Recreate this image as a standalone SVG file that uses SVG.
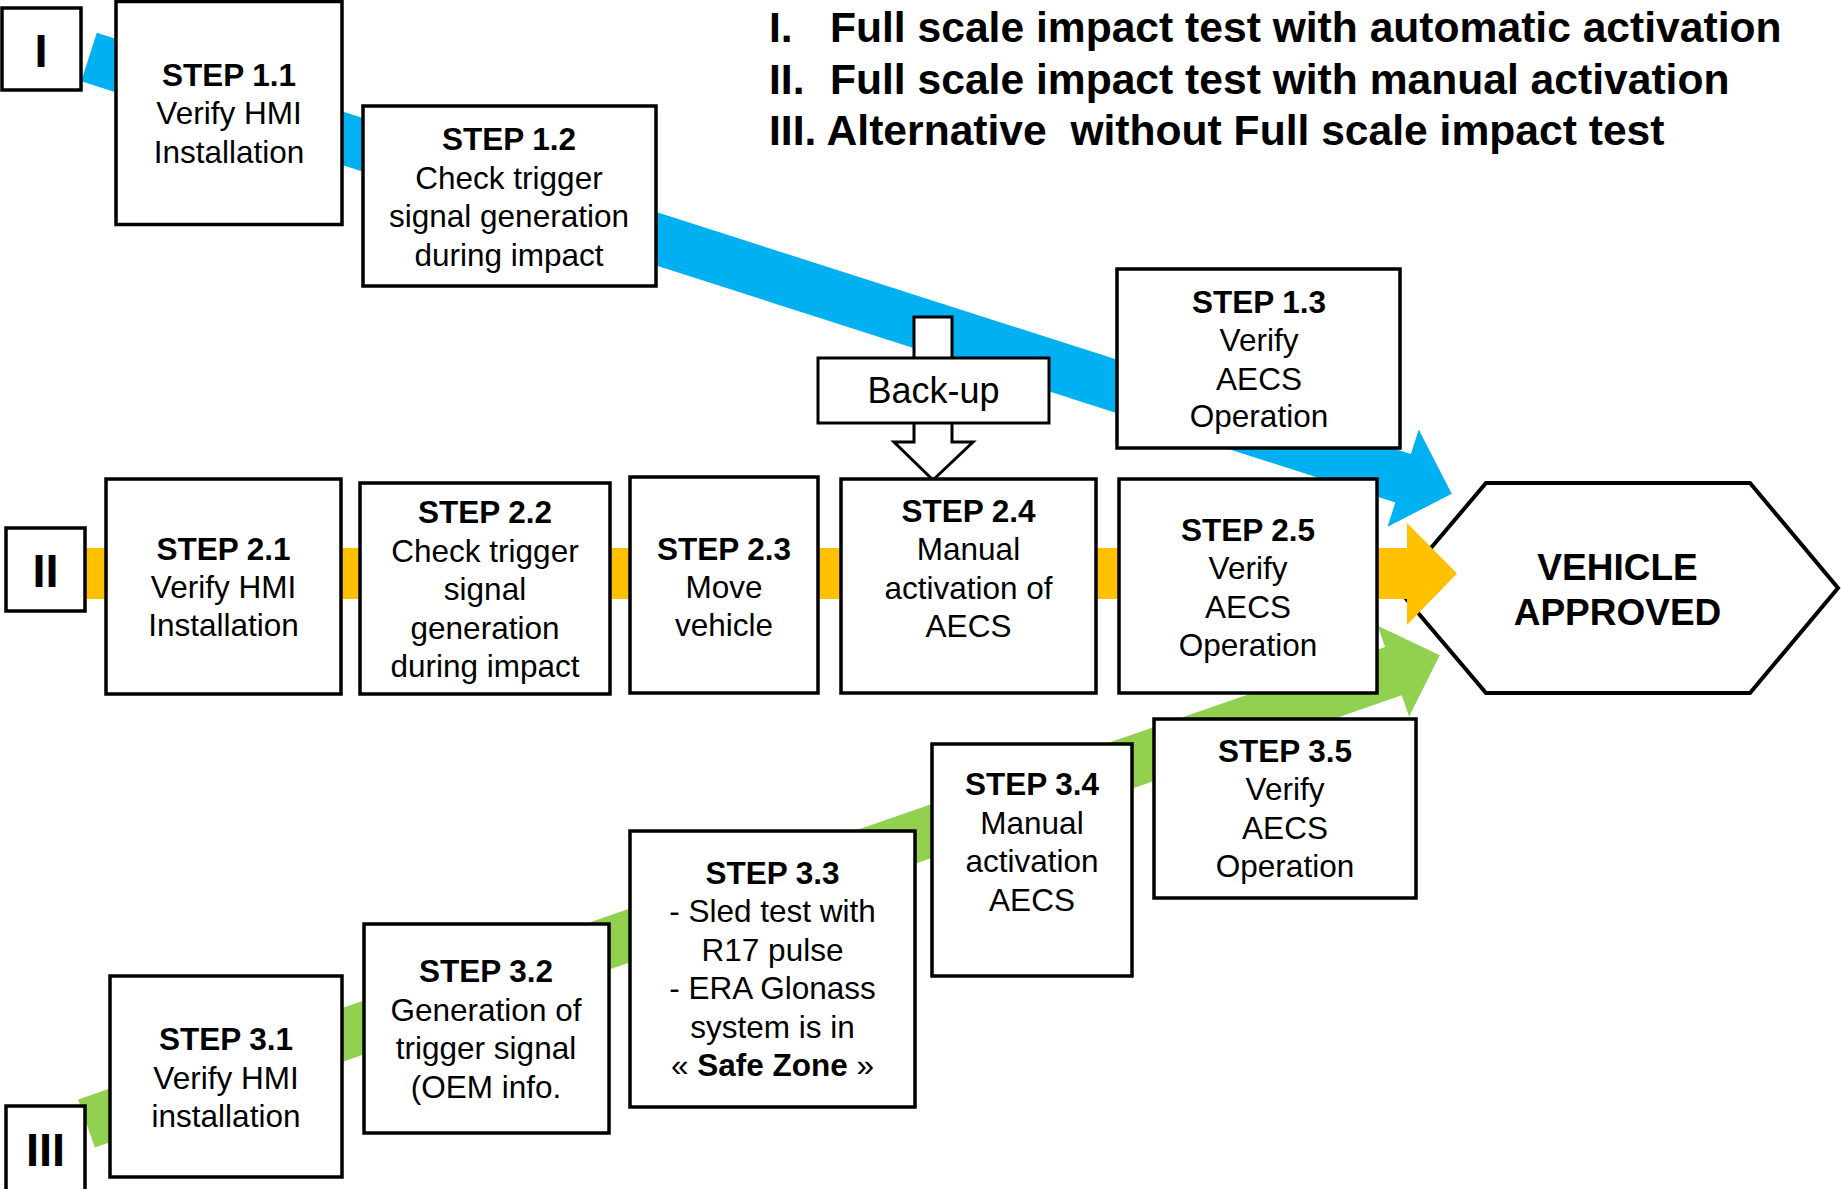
<svg xmlns="http://www.w3.org/2000/svg" width="1841" height="1189" viewBox="0 0 1841 1189">
<style>
.box{fill:#fff;stroke:#000;stroke-width:3.5}
.t{font-family:"Liberation Sans",Arial,sans-serif;font-size:31.5px;text-anchor:middle;fill:#000}
.b{font-weight:bold}
.num{font-family:"Liberation Sans",Arial,sans-serif;font-size:47px;font-weight:bold;text-anchor:middle}
.hdr{font-family:"Liberation Sans",Arial,sans-serif;font-size:42.6px;font-weight:bold}
</style>
<rect width="1841" height="1189" fill="#fff"/>

<g id="legend" class="hdr">
<text x="769" y="42">I.</text><text x="830" y="42">Full scale impact test with automatic activation</text>
<text x="769" y="93.5">II.</text><text x="830" y="93.5">Full scale impact test with manual activation</text>
<text x="769" y="145" xml:space="preserve">III. Alternative  without Full scale impact test</text>
</g>

<g id="approved">
<polygon points="1397,588 1486,483 1750,483 1838,588 1750,693 1486,693" fill="#fff" stroke="#000" stroke-width="4"/>
<text class="t b" style="font-size:37px" x="1617.5" y="580">VEHICLE</text>
<text class="t b" style="font-size:37px" x="1617.5" y="625">APPROVED</text>
</g>

<g id="connectors">
<polygon fill="#00B0F0" transform="translate(89,57) rotate(17.77)" points="0,-25.5 1380,-25.5 1380,-51 1431,0 1380,51 1380,25.5 0,25.5"/>
<polygon fill="#FFC000" points="80,548 1407,548 1407,523 1457,573.5 1407,625 1407,599 80,599"/>
<polygon fill="#92D050" transform="translate(86.5,1123.5) rotate(-19.09)" points="0,-25.5 1383,-25.5 1383,-48 1432,0 1383,48 1383,25.5 0,25.5"/>
<polygon fill="#fff" stroke="#000" stroke-width="3" points="914,317 952,317 952,442 973,442 933,480 894,442 914,442"/>
</g>

<g id="labelI"><rect class="box" x="2" y="8" width="79" height="82"/><text class="num" x="41" y="67">I</text></g>
<g id="labelII"><rect class="box" x="6" y="528" width="79" height="83"/><text class="num" x="45.5" y="587">II</text></g>
<g id="labelIII"><rect class="box" x="6" y="1106" width="79" height="95"/><text class="num" x="45.5" y="1166">III</text></g>

<g id="step11"><rect class="box" x="116" y="1.5" width="226" height="223"/>
<text class="t b" x="229" y="86">STEP 1.1</text><text class="t" x="229" y="124">Verify HMI</text><text class="t" x="229" y="163">Installation</text></g>
<g id="step12"><rect class="box" x="363" y="106" width="293" height="180"/>
<text class="t b" x="509" y="150">STEP 1.2</text><text class="t" x="509" y="188.5">Check trigger</text><text class="t" x="509" y="227">signal generation</text><text class="t" x="509" y="265.5">during impact</text></g>
<g id="step13"><rect class="box" x="1117" y="269" width="283" height="179"/>
<text class="t b" x="1259" y="312.5">STEP 1.3</text><text class="t" x="1259" y="351">Verify</text><text class="t" x="1259" y="389.5">AECS</text><text class="t" x="1259" y="427">Operation</text></g>

<g id="backup"><rect x="818" y="358" width="231" height="65" fill="#fff" stroke="#000" stroke-width="3"/>
<text class="t" style="font-size:36px" x="933.5" y="403">Back-up</text></g>

<g id="step21"><rect class="box" x="106" y="479" width="235" height="215"/>
<text class="t b" x="223.5" y="560">STEP 2.1</text><text class="t" x="223.5" y="598">Verify HMI</text><text class="t" x="223.5" y="636">Installation</text></g>
<g id="step22"><rect class="box" x="360" y="483" width="250" height="211"/>
<text class="t b" x="485" y="523">STEP 2.2</text><text class="t" x="485" y="561.5">Check trigger</text><text class="t" x="485" y="600">signal</text><text class="t" x="485" y="638.5">generation</text><text class="t" x="485" y="677">during impact</text></g>
<g id="step23"><rect class="box" x="630" y="477" width="188" height="216"/>
<text class="t b" x="724" y="560">STEP 2.3</text><text class="t" x="724" y="598">Move</text><text class="t" x="724" y="636">vehicle</text></g>
<g id="step24"><rect class="box" x="841" y="479" width="255" height="214"/>
<text class="t b" x="968.5" y="521.5">STEP 2.4</text><text class="t" x="968.5" y="560">Manual</text><text class="t" x="968.5" y="598.5">activation of</text><text class="t" x="968.5" y="637">AECS</text></g>
<g id="step25"><rect class="box" x="1119" y="479" width="258" height="214"/>
<text class="t b" x="1248" y="540.5">STEP 2.5</text><text class="t" x="1248" y="579">Verify</text><text class="t" x="1248" y="617.5">AECS</text><text class="t" x="1248" y="656">Operation</text></g>

<g id="step31"><rect class="box" x="110" y="976" width="232" height="201"/>
<text class="t b" x="226" y="1050">STEP 3.1</text><text class="t" x="226" y="1088.5">Verify HMI</text><text class="t" x="226" y="1127">installation</text></g>
<g id="step32"><rect class="box" x="364" y="924" width="245" height="209"/>
<text class="t b" x="486" y="982">STEP 3.2</text><text class="t" x="486" y="1020.5">Generation of</text><text class="t" x="486" y="1059">trigger signal</text><text class="t" x="486" y="1097.5">(OEM info.</text></g>
<g id="step33"><rect class="box" x="630" y="831" width="285" height="276"/>
<text class="t b" x="772.5" y="883.5">STEP 3.3</text><text class="t" x="772.5" y="922">- Sled test with</text><text class="t" x="772.5" y="960.5">R17 pulse</text><text class="t" x="772.5" y="999">- ERA Glonass</text><text class="t" x="772.5" y="1037.5">system is in</text><text class="t" x="772.5" y="1076">« <tspan class="b">Safe Zone</tspan> »</text></g>
<g id="step34"><rect class="box" x="932" y="744" width="200" height="232"/>
<text class="t b" x="1032" y="795">STEP 3.4</text><text class="t" x="1032" y="833.5">Manual</text><text class="t" x="1032" y="872">activation</text><text class="t" x="1032" y="910.5">AECS</text></g>
<g id="step35"><rect class="box" x="1154" y="719" width="262" height="179"/>
<text class="t b" x="1285" y="761.5">STEP 3.5</text><text class="t" x="1285" y="800">Verify</text><text class="t" x="1285" y="838.5">AECS</text><text class="t" x="1285" y="877">Operation</text></g>
</svg>
